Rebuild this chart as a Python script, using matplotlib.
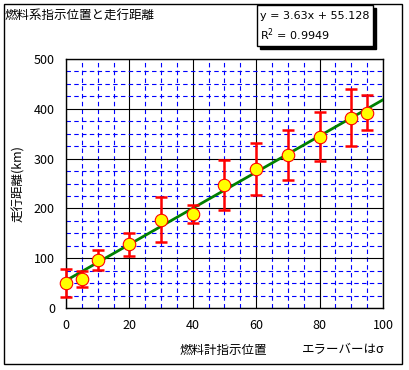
import numpy as np
import matplotlib.pyplot as plt
from matplotlib.patches import Rectangle

plt.rcParams['font.family'] = ['Noto Sans CJK JP', 'DejaVu Sans']

# 燃料計の指示位置と走行距離
fuel_pos = [0, 5, 10, 20, 30, 40, 50, 60, 70, 80, 90, 95]
distance = [50, 59, 97, 128, 177, 188, 247, 279, 308, 344, 382, 392]
sigma = [28, 16, 20, 23, 45, 18, 50, 52, 50, 49, 57, 35]

slope = 3.63
intercept = 55.128
r2 = 0.9949

x_ticks = [0, 20, 40, 60, 80, 100]
y_ticks = [0, 100, 200, 300, 400, 500]

fig = plt.figure(figsize=(4.09, 3.70), dpi=100)
ax = fig.add_axes([66 / 409, 62 / 370, 317 / 409, 249 / 370])

# grid
ax.set_xticks(np.arange(0, 101, 5), minor=True)
ax.set_yticks(np.arange(0, 501, 25), minor=True)
ax.grid(which='minor', color='#0000ff', linestyle=(0, (4, 3)), linewidth=0.8)
ax.grid(which='major', color='black', linestyle='-', linewidth=0.8)
ax.set_axisbelow(True)

# trend line
xl = np.array([0, 100])
ax.plot(xl, slope * xl + intercept, color='#008000', linewidth=2, zorder=3)

eb = ax.errorbar(fuel_pos, distance, yerr=sigma, fmt='none', ecolor='#ff0000',
                 elinewidth=1.8, capsize=4, capthick=1.8, zorder=4)
for art in eb.lines[1] + eb.lines[2]:
    art.set_clip_on(False)
ax.plot(fuel_pos, distance, 'o', markersize=9, markerfacecolor='#ffff00',
        markeredgecolor='#ff0000', markeredgewidth=0.8, zorder=5, clip_on=False)

ax.set_xlim(0, 100)
ax.set_ylim(0, 500)
ax.set_xticks(x_ticks)
ax.set_yticks(y_ticks)
ax.tick_params(which='both', length=0, labelsize=9, pad=8)
for s in ax.spines.values():
    s.set_linewidth(1)

ax.set_ylabel('走行距離(km)', fontsize=9, labelpad=6)
fig.text(223 / 409, 1 - 350 / 370, '燃料計指示位置', fontsize=9,
         ha='center', va='center')
fig.text(343 / 409, 1 - 350 / 370, 'エラーバーはσ', fontsize=9,
         ha='center', va='center')
fig.text(5 / 409, 1 - 15 / 370, '燃料系指示位置と走行距離', fontsize=9,
         ha='left', va='center')

# outer frame
fig.patches.append(Rectangle((4 / 409, 1 - 364 / 370), 398 / 409, 360 / 370,
                             transform=fig.transFigure, fill=False,
                             edgecolor='black', linewidth=1))

# equation box with shadow
bx, by, bw, bh = 257, 5, 116, 41
fig.patches.append(Rectangle(((bx + 3) / 409, 1 - (by + bh + 3) / 370),
                             bw / 409, bh / 370, transform=fig.transFigure,
                             facecolor='black', edgecolor='black', zorder=9))
fig.patches.append(Rectangle((bx / 409, 1 - (by + bh) / 370), bw / 409, bh / 370,
                             transform=fig.transFigure, facecolor='white',
                             edgecolor='black', linewidth=1, zorder=10))
fig.text((bx + 3) / 409, 1 - 16 / 370, f'y = {slope}x + {intercept}', fontsize=8,
         family='DejaVu Sans', ha='left', va='center', zorder=11)
fig.text((bx + 3) / 409, 1 - 35 / 370, f'R$^2$ = {r2}', fontsize=8,
         family='DejaVu Sans', ha='left', va='center', zorder=11)

fig.savefig('out.png', dpi=100)
